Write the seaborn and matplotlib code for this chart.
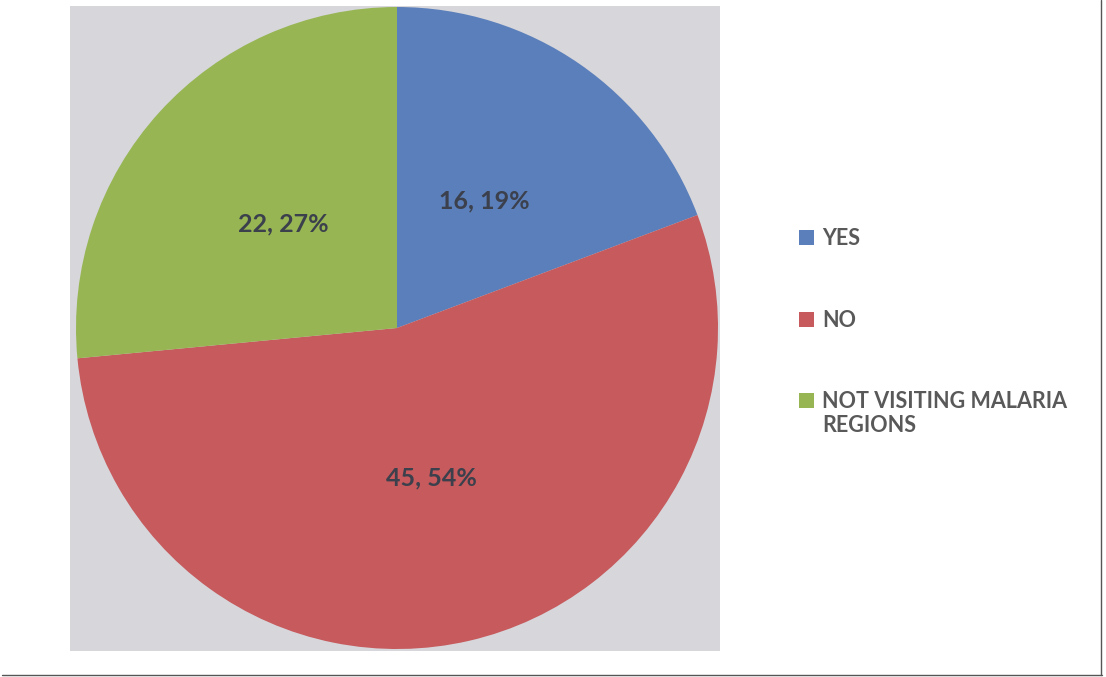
import matplotlib
matplotlib.use("Agg")
import matplotlib.pyplot as plt
import seaborn as sns
from matplotlib.patches import Rectangle
from matplotlib.lines import Line2D

categories = ["YES", "NO", "NOT VISITING MALARIA\nREGIONS"]
counts = [16, 45, 22]
percent_labels = [19, 54, 27]
slice_colors = ["#5b7fba", "#c65a5c", "#97b653"]

sns.set_theme(style="white")
plt.rcParams['font.family'] = ['Lato', 'DejaVu Sans']

fig = plt.figure(figsize=(11.06, 6.77), dpi=100)
fig.patch.set_facecolor("white")

# photographed chart background
fig.add_artist(Rectangle((70/1106, 1-651/677), 650/1106, 645/677,
                         transform=fig.transFigure, facecolor="#d6d6db",
                         edgecolor="none", zorder=0))
# outer frame lines
fig.add_artist(Line2D([0.002, 0.996], [1-675/677, 1-675/677], transform=fig.transFigure,
                      color="#555555", lw=1.0))
fig.add_artist(Line2D([0.9955, 0.9955], [1-675/677, 1.0], transform=fig.transFigure,
                      color="#555555", lw=1.0))

ax = fig.add_axes([(397-321)/1106, 1-(328+321)/677, 642/1106, 642/677])
ax.set_facecolor("none")

idx = iter(range(len(counts)))
def fmt(p):
    i = next(idx)
    return f"{counts[i]}, {percent_labels[i]}%"

wedges, texts, autotexts = ax.pie(counts, colors=slice_colors, startangle=90,
                                  counterclock=False, autopct=fmt, pctdistance=0.48,
                                  wedgeprops=dict(linewidth=0))
for t in autotexts:
    t.set_fontsize(18)
    t.set_fontweight("bold")
    t.set_color("#3b404c")
ax.set_xlim(-1, 1)
ax.set_ylim(-1, 1)
ax.set_aspect("equal")

leg = fig.legend(wedges, categories, loc="upper left",
                 bbox_to_anchor=(780/1106, 1-209/677), frameon=False,
                 labelspacing=2.8, handlelength=0.7, handleheight=0.7,
                 handletextpad=0.35, labelcolor="#595959",
                 prop=dict(weight="bold", size=15.5))
fig.canvas.draw()
h = leg.legend_handles[2]
h.set_y(h.get_y() + 10)

fig.savefig("out.png", dpi=100)
